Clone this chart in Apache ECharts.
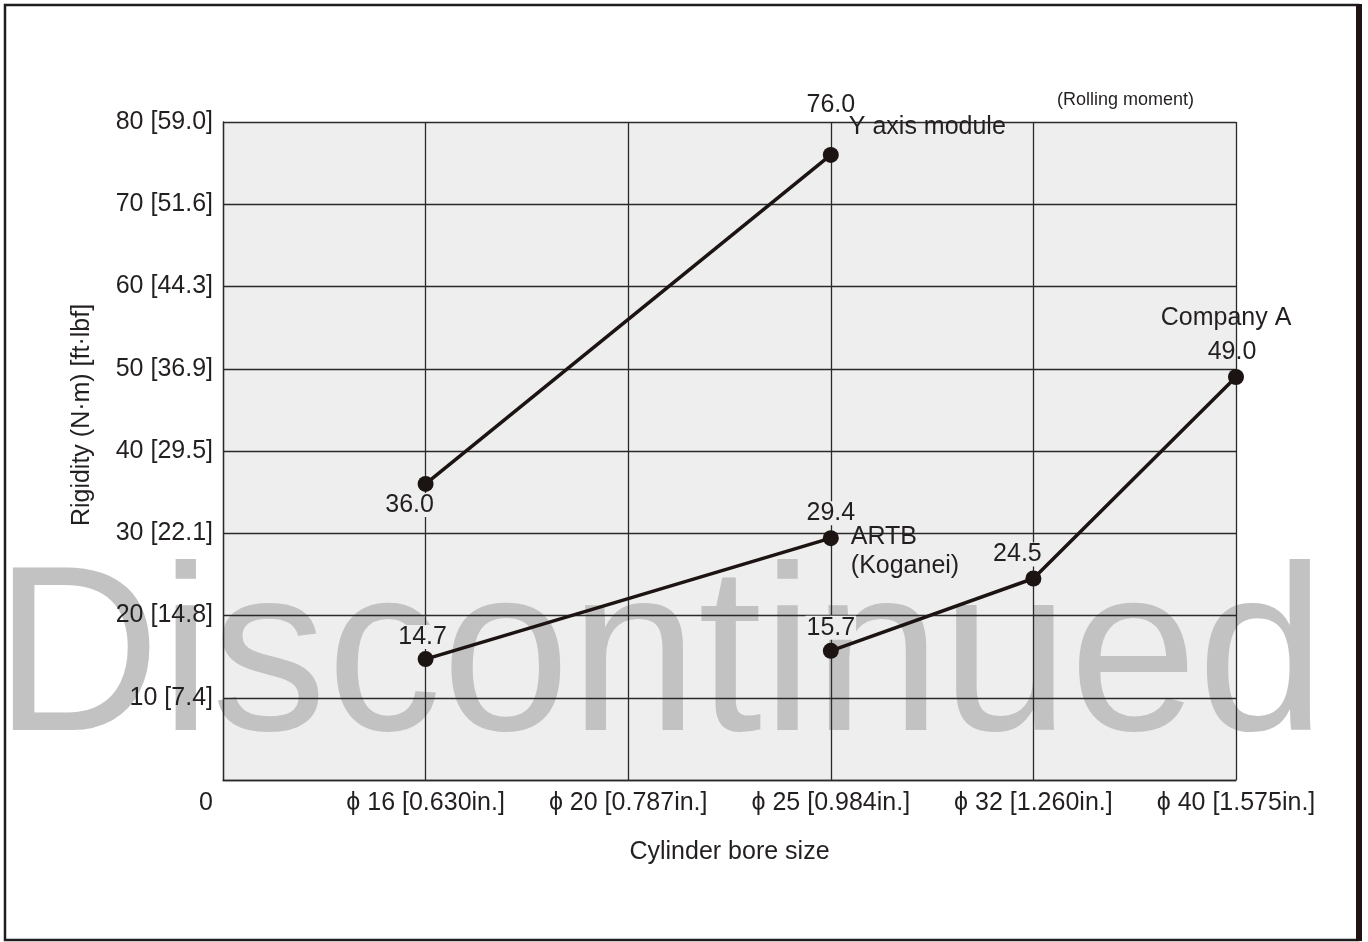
<!DOCTYPE html>
<html lang="en">
<head>
    <meta charset="utf-8">
    <title>Rigidity (Rolling moment)</title>
    <script src="https://cdn.jsdelivr.net/npm/echarts@6/dist/echarts.min.js"></script>
    <style>
        html, body { margin: 0; padding: 0; background: #fff; }
        #main { width: 1368px; height: 942px; }
    </style>
</head>
<body>
<div id="main"></div>
<script type="text/javascript">
    // bore sizes along the x axis (positions 1..5, 0 is the origin)
    var boreLabels = ['ϕ 16 [0.630in.]', 'ϕ 20 [0.787in.]', 'ϕ 25 [0.984in.]', 'ϕ 32 [1.260in.]', 'ϕ 40 [1.575in.]'];

    // y tick labels: N·m [ft·lbf]
    var yTicks = [0, 10, 20, 30, 40, 50, 60, 70, 80];
    var yTickFt = ['', '7.4', '14.8', '22.1', '29.5', '36.9', '44.3', '51.6', '59.0'];

    // rigidity values (N·m), null where the series has no point
    var yAxisModule = [36.0, null, 76.0, null, null];
    var artb = [14.7, null, 29.4, null, null];
    var companyA = [null, null, 15.7, 24.5, 49.0];

    var FONT = '"Liberation Sans", Arial, Helvetica, sans-serif';
    var TXT = '#231f20';
    var PLOT_BG = '#edeeed';

    function toPoints(values) {
        var pts = [];
        values.forEach(function (v, i) {
            if (v !== null) pts.push([i + 1, v]);
        });
        return pts;
    }

    // value label offsets (dx, dy from the point centre), in point order
    var labelShift = {
        ymod: [[-16, 21], [0, -50]],
        artb: [[-3, -22], [0, -25]],
        compA: [[0, -23], [-16, -24], [-4, -25]]
    };

    function withLabels(points, shifts, bg) {
        return points.map(function (p, i) {
            var s = shifts[i];
            return {
                value: p,
                label: {
                    position: [8 + s[0], 8 + s[1]],
                    align: 'center',
                    verticalAlign: 'middle',
                    lineHeight: 24,
                    backgroundColor: bg[i] ? PLOT_BG : 'transparent',
                    padding: [0, 1]
                }
            };
        });
    }

    function nameMark(coord, text, dx, dy, align) {
        return {
            coord: coord,
            symbol: 'circle',
            symbolSize: 1,
            itemStyle: { color: 'transparent' },
            label: {
                show: true,
                formatter: text,
                position: [0.5 + dx, 0.5 + dy],
                align: align,
                verticalAlign: 'middle',
                color: TXT,
                fontFamily: FONT,
                fontSize: 25,
                lineHeight: 29,
                backgroundColor: 'transparent'
            }
        };
    }

    var chart = echarts.init(document.getElementById('main'), null, { renderer: 'canvas' });

    var lineBase = {
        type: 'line',
        z: 6,
        symbol: 'circle',
        symbolSize: 16,
        lineStyle: { color: '#1c1412', width: 3.5 },
        itemStyle: { color: '#1c1412' },
        label: {
            show: true,
            color: TXT,
            fontFamily: FONT,
            fontSize: 25,
            formatter: function (p) { return p.value[1].toFixed(1); }
        },
        emphasis: { disabled: true },
        animation: false
    };

    var ymodPts = toPoints(yAxisModule);
    var artbPts = toPoints(artb);
    var compPts = toPoints(companyA);

    var axisLineStyle = { color: '#2a2a2a', width: 1.3 };

    var option = {
        animation: false,
        title: {
            text: '(Rolling moment)',
            left: 1052,
            top: 86,
            z: 6,
            textStyle: { fontFamily: FONT, fontSize: 18, fontWeight: 'normal', color: TXT }
        },
        grid: {
            left: 223, right: 132, top: 122, bottom: 162,
            show: true, backgroundColor: PLOT_BG, borderWidth: 0, z: 0
        },
        xAxis: {
            type: 'value',
            min: 0, max: 5, interval: 1,
            z: 5,
            name: 'Cylinder bore size',
            nameLocation: 'middle',
            nameGap: 60,
            nameTextStyle: { fontFamily: FONT, fontSize: 25, color: TXT },
            axisLine: { show: true, lineStyle: axisLineStyle },
            axisTick: { show: false },
            splitLine: { show: true, lineStyle: axisLineStyle },
            axisLabel: {
                margin: 11,
                fontFamily: FONT, fontSize: 25, color: TXT,
                formatter: function (v) { return v === 0 ? '' : boreLabels[v - 1]; }
            }
        },
        yAxis: {
            type: 'value',
            min: 0, max: 80, interval: 10,
            z: 5,
            name: 'Rigidity (N·m) [ft·lbf]',
            nameLocation: 'middle',
            nameGap: 128,
            nameTextStyle: { fontFamily: FONT, fontSize: 25, color: TXT, padding: [0, 0, 0, 72] },
            axisLine: { show: true, lineStyle: axisLineStyle },
            axisTick: { show: false },
            splitLine: { show: true, lineStyle: axisLineStyle },
            axisLabel: {
                margin: 10,
                fontFamily: FONT, fontSize: 25, color: TXT,
                formatter: function (v) {
                    var i = yTicks.indexOf(v);
                    if (v === 0) return '{z|0}';
                    return v + ' [' + yTickFt[i] + ']';
                },
                rich: {
                    z: { fontFamily: FONT, fontSize: 25, color: TXT, padding: [46, 0, 0, 0] }
                }
            }
        },
        graphic: [
            {
                type: 'text',
                z: 1,
                x: -6,
                y: 665,
                scaleX: 0.98,
                originX: 0,
                silent: true,
                style: {
                    text: 'Discontinued',
                    fontFamily: FONT,
                    fontSize: 235,
                    fill: '#c2c2c2',
                    textAlign: 'left',
                    textVerticalAlign: 'middle'
                }
            },
            {
                type: 'rect',
                z: 10,
                silent: true,
                shape: { x: 5, y: 5, width: 1353, height: 935 },
                style: { fill: 'none', stroke: '#1e1e1e', lineWidth: 2.5 }
            },
            {
                type: 'line',
                z: 10,
                silent: true,
                shape: { x1: 1359, y1: 4, x2: 1359, y2: 941 },
                style: { stroke: '#1e1412', lineWidth: 6 }
            }
        ],
        series: [
            Object.assign({}, lineBase, {
                name: 'Y axis module',
                data: withLabels(ymodPts, labelShift.ymod, [true, false]),
                markPoint: {
                    z: 7,
                    animation: false,
                    data: [nameMark(ymodPts[ymodPts.length - 1], 'Y axis module', 18, -28, 'left')]
                }
            }),
            Object.assign({}, lineBase, {
                name: 'ARTB (Koganei)',
                data: withLabels(artbPts, labelShift.artb, [true, true]),
                markPoint: {
                    z: 7,
                    animation: false,
                    data: [nameMark(artbPts[artbPts.length - 1], 'ARTB\n(Koganei)', 20, 13, 'left')]
                }
            }),
            Object.assign({}, lineBase, {
                name: 'Company A',
                data: withLabels(compPts, labelShift.compA, [true, true, false]),
                markPoint: {
                    z: 7,
                    animation: false,
                    data: [nameMark(compPts[compPts.length - 1], 'Company A', -10, -59, 'center')]
                }
            })
        ]
    };

    chart.setOption(option);
</script>
</body>
</html>
